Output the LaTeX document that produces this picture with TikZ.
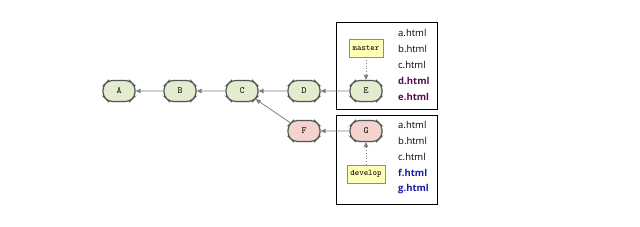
\documentclass[tikz,border=0pt]{standalone}
\usepackage{fontspec}
\setmainfont{Open Sans}
\usetikzlibrary{shapes.misc,arrows.meta,shadows}
\definecolor{cgreen}{HTML}{E5EBCF}
\definecolor{cpink}{HTML}{F5D2CD}
\definecolor{cborder}{HTML}{4E5B55}
\definecolor{cyell}{HTML}{FFFFB8}
\definecolor{cyellb}{HTML}{9A9440}
\definecolor{cpurp}{HTML}{5A0A55}
\definecolor{cblue}{HTML}{1A1AA8}
\definecolor{carrow}{HTML}{808080}
\tikzset{
  commit/.style={chamfered rectangle, chamfered rectangle xsep=5pt, rounded corners=4pt,
    draw=cborder, line width=1.2pt, fill=cgreen, minimum width=32pt, minimum height=21pt,
    inner sep=0pt, font=\ttfamily\fontsize{9.5}{9.5}\selectfont,
    drop shadow={shadow xshift=0.8pt, shadow yshift=-0.8pt, opacity=0.25}},
  pinkc/.style={commit, fill=cpink},
  branch/.style={draw=cyellb, fill=cyell, line width=0.5pt, minimum height=18pt, inner sep=3.5pt,
    font=\ttfamily\fontsize{8.5}{8.5}\selectfont,
    drop shadow={shadow xshift=0.8pt, shadow yshift=-0.8pt, opacity=0.2}},
  conn/.style={draw=carrow, line width=0.8pt, -{Triangle[length=5pt,width=4.5pt]}},
  dconn/.style={conn, dotted, line width=1pt},
  frame/.style={draw=black, line width=0.8pt},
  file/.style={anchor=west, inner sep=0pt, font=\fontsize{9.5}{9.5}\selectfont},
  hfile/.style={file, font=\bfseries\fontsize{9.5}{9.5}\selectfont},
}
\begin{document}
\begin{tikzpicture}[x=1pt,y=1pt]
\useasboundingbox (0,0) rectangle (640,227);
\draw[frame] (336,205) rectangle (437,118);
\draw[frame] (336,112) rectangle (437,23);
\node[commit] (A) at (119,136) {A};
\node[commit] (B) at (180,136) {B};
\node[commit] (C) at (242,136) {C};
\node[commit] (D) at (304,136) {D};
\node[commit] (E) at (366,136) {E};
\node[pinkc] (F) at (304,96) {F};
\node[pinkc] (G) at (366,96) {G};
\node[branch] (master) at (366,179) {master};
\node[branch] (develop) at (366,53) {develop};
\draw[conn] (B) -- (A);
\draw[conn] (C) -- (B);
\draw[conn] (D) -- (C);
\draw[conn] (E) -- (D);
\draw[conn] (F.north west) -- (C.south east);
\draw[conn] (G) -- (F);
\draw[dconn] (master) -- (E);
\draw[dconn] (develop) -- (G);
\node[file] (f1) at (398,194) {a.html};
\node[file] (f2) at (398,178) {b.html};
\node[file] (f3) at (398,162) {c.html};
\node[hfile, text=cpurp] (f4) at (398,146) {d.html};
\node[hfile, text=cpurp] (f5) at (398,130) {e.html};
\node[file] (g1) at (398,102) {a.html};
\node[file] (g2) at (398,86) {b.html};
\node[file] (g3) at (398,70) {c.html};
\node[hfile, text=cblue] (g4) at (398,54) {f.html};
\node[hfile, text=cblue] (g5) at (398,38) {g.html};
\end{tikzpicture}
\end{document}
